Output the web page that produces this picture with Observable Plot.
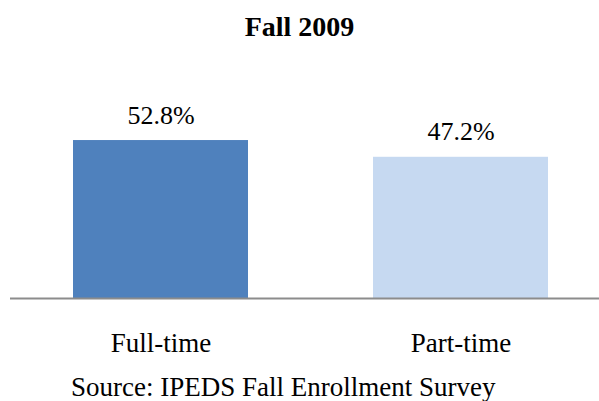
<!DOCTYPE html>
<html>
<head>
<meta charset="utf-8">
<script src="https://cdn.jsdelivr.net/npm/d3@7"></script>
<script src="https://cdn.jsdelivr.net/npm/@observablehq/plot@0.6"></script>
<style>
  html, body { margin: 0; padding: 0; background: #fff; overflow: hidden; width: 599px; height: 401px; }
  #title { height: 53px; line-height: 53px; text-align: center; font-family: "Liberation Serif", serif; font-weight: bold; font-size: 28px; color: #000; }
  #chart svg { display: block; }
  #source { margin-top: 9.7px; margin-left: 71px; line-height: 28px; font-family: "Liberation Serif", serif; font-size: 27px; color: #000; white-space: nowrap; }
</style>
</head>
<body>
<div id="title">Fall 2009</div>
<div id="chart"></div>
<div id="source">Source: IPEDS Fall Enrollment Survey</div>
<script>
const categories = ["Full-time", "Part-time"];
const values = [52.8, 47.2];
const valueLabels = ["52.8%", "47.2%"];
const colors = ["#4f81bd", "#c6d9f1"];

const data = categories.map((c, i) => ({category: c, value: values[i], label: valueLabels[i], color: colors[i]}));

const chart = Plot.plot({
  width: 599,
  height: 310,
  marginLeft: 10,
  marginRight: 0,
  marginTop: 65.5,
  marginBottom: 65,
  style: {fontFamily: "Liberation Serif, serif", background: "#fff"},
  x: {type: "band", domain: categories, range: [10, 610], paddingInner: 0.4167, paddingOuter: 0.2083, axis: null},
  y: {domain: [0, 60], axis: null},
  marks: [
    Plot.barY(data, {x: "category", y: "value", fill: "color"}),
    Plot.ruleY([0], {stroke: "#8c8c8c", strokeWidth: 2}),
    Plot.text(data, {x: "category", y: "value", text: "label", lineAnchor: "bottom", dy: -17, fontSize: 26, fill: "#000"}),
    Plot.text(data, {x: "category", y: 0, text: "category", lineAnchor: "bottom", dy: 53, fontSize: 27, fill: "#000"})
  ]
});
document.getElementById("chart").appendChild(chart);
</script>
</body>
</html>
